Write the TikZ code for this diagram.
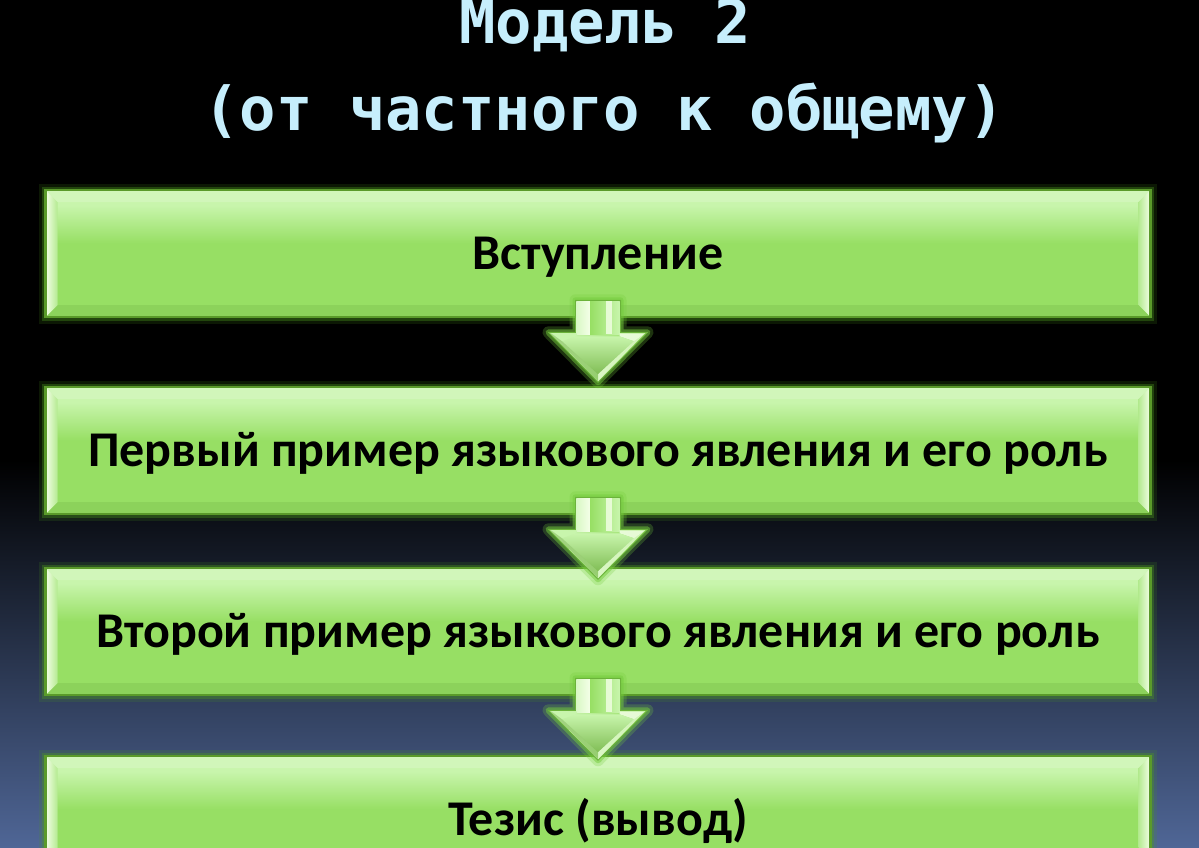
\documentclass[tikz,border=0pt]{standalone}
\usepackage{fontspec}
\newfontfamily\titlefont{DejaVu Sans Mono}
\newfontfamily\boxfont{Carlito}
\usetikzlibrary{calc}
\definecolor{titlecol}{HTML}{C6EEFC}
\definecolor{bgbot}{HTML}{4F6696}
\definecolor{grn}{HTML}{97DF64}
\definecolor{lgrn}{HTML}{C8F5AC}
\definecolor{edgecol}{HTML}{5A9A2A}
\definecolor{glowcol}{HTML}{4C9A1E}
\definecolor{pale}{HTML}{F4FFE8}
\definecolor{bev}{HTML}{B4EA90}
\definecolor{dbev}{HTML}{80C452}
\definecolor{aglow}{HTML}{74CC3C}
\definecolor{aedge}{HTML}{6BB33A}
\pgfdeclareverticalshading{boxshade}{100bp}{color(0bp)=(grn); color(54bp)=(grn); color(69bp)=(lgrn); color(100bp)=(lgrn)}
\tikzset{
  stepbox/.style={rectangle, minimum width=1105pt, minimum height=127pt, inner sep=0pt,
    draw=edgecol, line width=2.5pt, shade, shading=boxshade,
    text height=32pt, text depth=0pt, text=black,
    font=\boxfont\bfseries\fontsize{50}{60}\selectfont,
    preaction={draw=glowcol, line width=13pt, opacity=0.16},
    preaction={draw=glowcol, line width=7pt, opacity=0.35},
    path picture={
      \fill[white, opacity=0.18] (path picture bounding box.north west) -- (path picture bounding box.north east) -- ++(-12,12) -- ($(path picture bounding box.north west)+(12,12)$) -- cycle;
      \fill[dbev, opacity=0.45] (path picture bounding box.south west) -- (path picture bounding box.south east) -- ++(-12,-12) -- ($(path picture bounding box.south west)+(12,-12)$) -- cycle;
      \shade[left color=pale, right color=bev] (path picture bounding box.north west) -- (path picture bounding box.south west) -- ++(12,-12) -- ($(path picture bounding box.north west)+(12,12)$) -- cycle;
      \shade[left color=bev, right color=pale] (path picture bounding box.north east) -- (path picture bounding box.south east) -- ++(-12,-12) -- ($(path picture bounding box.north east)+(-12,12)$) -- cycle;
    }},
  titletext/.style={anchor=base, inner sep=0pt, text=titlecol,
    font=\titlefont\bfseries\fontsize{60.5}{70}\selectfont},
  arrowglow/.style={draw=aglow, line join=round},
  arrowbody/.style={left color=lgrn!80!white, right color=grn, draw=aedge, line width=1pt, line join=miter}
}
\begin{document}
\begin{tikzpicture}[x=1pt, y=-1pt]
\useasboundingbox (0,0) rectangle (1199,847);
\clip (0,0) rectangle (1199,847);
\fill[black] (0,0) rectangle (1199,847);
\shade[top color=black, bottom color=bgbot] (0,460) rectangle (1199,847);

\node[titletext] (t1) at (605,43) {Модель 2};
\node[titletext] (t2) at (604,130) {(от частного к общему)};

\node[stepbox] (b1) at (598,253.5) {Вступление};
\node[stepbox] (b2) at (598,450.5) {Первый пример языкового явления и его роль};
\node[stepbox] (b3) at (598,631.5) {Второй пример языкового явления и его роль};
\node[stepbox] (b4) at (598,819.5) {Тезис (вывод)};

\foreach \a in {b1,b2,b3}{
  \begin{scope}[shift={(\a.south)}]
    \path[arrowglow, line width=12pt, opacity=0.25] (-22.5,-18) -- (22.5,-18) -- (22.5,14) -- (49.5,14) -- (0,64) -- (-49.5,14) -- (-22.5,14) -- cycle;
    \path[arrowglow, line width=6pt, opacity=0.5] (-22.5,-18) -- (22.5,-18) -- (22.5,14) -- (49.5,14) -- (0,64) -- (-49.5,14) -- (-22.5,14) -- cycle;
    \path[arrowbody] (-22.5,-18) -- (22.5,-18) -- (22.5,14) -- (49.5,14) -- (0,64) -- (-49.5,14) -- (-22.5,14) -- cycle;
    % shaft highlights
    \shade[left color=lgrn!70!white, right color=pale] (-21.5,-17) rectangle (-8,16);
    \shade[left color=grn, right color=lgrn] (-8,-17) rectangle (21.5,16);
    \fill[pale, opacity=0.8] (8,-17) rectangle (14,16);
    % head facets
    \fill[lgrn] (-47,15) -- (-21.5,15) -- (-21.5,18) -- (-36,23) -- cycle;
    \fill[pale, opacity=0.85] (47,15) -- (21.5,15) -- (21.5,18) -- (36,23) -- cycle;
    \shade[top color=lgrn, bottom color=grn!85!black] (-36,23) -- (-21.5,18) -- (21.5,18) -- (36,23) -- (0,56) -- cycle;
    \fill[pale, opacity=0.6] (36,23) -- (47,15) -- (0,63) -- (0,56) -- cycle;
    \fill[grn!80!black, opacity=0.5] (-36,23) -- (-47,15) -- (0,63) -- (0,56) -- cycle;
  \end{scope}
}
\end{tikzpicture}
\end{document}
